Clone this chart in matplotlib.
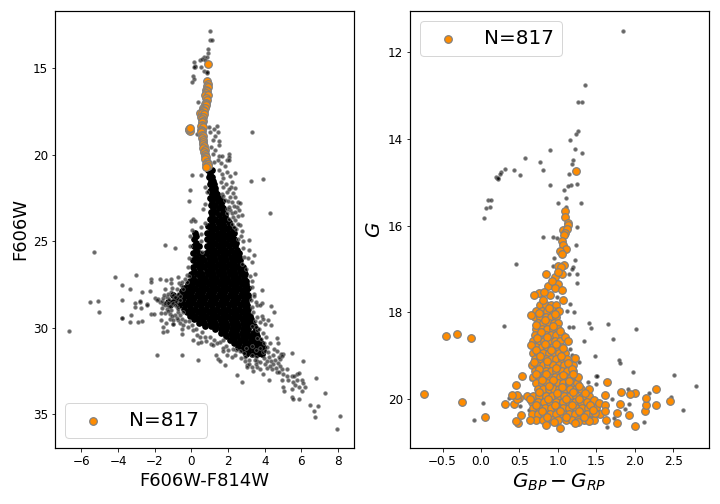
import numpy as np
from matplotlib import pyplot as plt

# ---------- left panel, F606W-F814W vs F606W ----------
# dense part of the cloud, one list of colours per magnitude row
core_mag = [20.9, 21.3, 21.7, 22.1, 22.5, 22.9, 23.3, 23.7, 24.1, 24.5, 24.9, 25.3, 25.7, 26.1, 26.5, 26.9,
            27.3, 27.7, 28.1, 28.5, 28.9, 29.3, 29.7, 30.1, 30.5, 30.9, 31.3]
core_col = [
    [0.9, 1.1],
    [0.95, 1.15],
    [1.0, 1.25],
    [1.0, 1.3],
    [1.0, 1.25, 1.5],
    [1.05, 1.3, 1.6],
    [1.05, 1.35, 1.7],
    [1.0, 1.3, 1.6, 1.9],
    [0.9, 1.2, 1.5, 1.8, 2.1],
    [0.2, 0.85, 1.15, 1.45, 1.75, 2.05, 2.3],
    [0.15, 0.85, 1.15, 1.45, 1.75, 2.05, 2.35],
    [0.15, 0.4, 0.85, 1.15, 1.45, 1.75, 2.05, 2.4],
    [0.1, 0.4, 0.8, 1.1, 1.4, 1.7, 2.0, 2.3, 2.6],
    [0.1, 0.4, 0.7, 1.0, 1.3, 1.6, 1.9, 2.2, 2.5, 2.65],
    [0.1, 0.4, 0.7, 1.0, 1.3, 1.6, 1.9, 2.2, 2.5, 2.8],
    [0.0, 0.3, 0.6, 0.9, 1.2, 1.5, 1.8, 2.1, 2.4, 2.7, 2.9],
    [-0.1, 0.2, 0.5, 0.8, 1.1, 1.4, 1.7, 2.0, 2.3, 2.6, 2.9, 3.0],
    [-0.4, -0.1, 0.2, 0.5, 0.8, 1.1, 1.4, 1.7, 2.0, 2.3, 2.6, 2.9, 3.1],
    [-1.0, -0.6, -0.3, 0.0, 0.3, 0.6, 0.9, 1.2, 1.5, 1.8, 2.1, 2.4, 2.7, 3.0, 3.1],
    [-1.3, -1.0, -0.5, -0.2, 0.1, 0.4, 0.7, 1.0, 1.3, 1.6, 1.9, 2.2, 2.5, 2.8, 3.0],
    [-0.4, -0.1, 0.2, 0.5, 0.8, 1.1, 1.4, 1.7, 2.0, 2.3, 2.6, 2.9, 3.1],
    [-0.1, 0.2, 0.5, 0.8, 1.1, 1.4, 1.7, 2.0, 2.3, 2.6, 2.9, 3.2],
    [0.4, 0.7, 1.0, 1.3, 1.6, 1.9, 2.2, 2.5, 2.8, 3.1, 3.3],
    [1.3, 1.6, 1.9, 2.2, 2.5, 2.8, 3.1, 3.5],
    [1.9, 2.2, 2.5, 2.8, 3.1, 3.35, 3.6],
    [2.3, 2.6, 2.9, 3.2, 3.5, 3.8],
    [2.8, 3.1, 3.4, 3.7, 3.9],
]
core_mag_b = [21.1, 21.5, 21.9, 22.3, 22.7, 23.1, 23.5, 23.9, 24.3, 24.7, 25.1, 25.5, 25.9, 26.3, 26.7, 27.1,
              27.5, 27.9, 28.3, 28.7, 29.1, 29.5, 29.9, 30.3, 30.7, 31.1, 31.5]
core_col_b = [
    [1.0],
    [1.05, 1.2],
    [1.1, 1.3],
    [1.1, 1.4],
    [1.15, 1.45, 1.65],
    [1.2, 1.5, 1.75],
    [1.15, 1.5, 1.85],
    [1.1, 1.45, 1.75, 2.05],
    [1.05, 1.35, 1.65, 1.95, 2.25],
    [0.25, 1.0, 1.3, 1.6, 1.9, 2.2],
    [0.25, 1.0, 1.3, 1.6, 1.9, 2.2, 2.45],
    [0.25, 0.95, 1.25, 1.55, 1.85, 2.15, 2.5],
    [0.25, 0.6, 0.95, 1.25, 1.55, 1.85, 2.15, 2.45, 2.6],
    [0.25, 0.55, 0.85, 1.15, 1.45, 1.75, 2.05, 2.35, 2.65],
    [0.15, 0.45, 0.85, 1.15, 1.45, 1.75, 2.05, 2.35, 2.65, 2.85],
    [0.1, 0.45, 0.75, 1.05, 1.35, 1.65, 1.95, 2.25, 2.55, 2.85],
    [-0.2, 0.05, 0.35, 0.65, 0.95, 1.25, 1.55, 1.85, 2.15, 2.45, 2.75, 3.0],
    [-0.5, -0.25, 0.05, 0.35, 0.65, 0.95, 1.25, 1.55, 1.85, 2.15, 2.45, 2.75, 3.0],
    [-0.8, -0.45, -0.15, 0.15, 0.45, 0.75, 1.05, 1.35, 1.65, 1.95, 2.25, 2.55, 2.85, 3.1],
    [-1.15, -0.7, -0.35, -0.05, 0.25, 0.55, 0.85, 1.15, 1.45, 1.75, 2.05, 2.35, 2.65, 2.95, 3.05],
    [-0.25, 0.05, 0.35, 0.65, 0.95, 1.25, 1.55, 1.85, 2.15, 2.45, 2.75, 3.05],
    [0.15, 0.35, 0.65, 0.95, 1.25, 1.55, 1.85, 2.15, 2.45, 2.75, 3.05, 3.25],
    [0.75, 1.05, 1.35, 1.65, 1.95, 2.25, 2.55, 2.85, 3.15, 3.4],
    [1.6, 1.85, 2.15, 2.45, 2.75, 3.05, 3.35, 3.55],
    [2.1, 2.35, 2.65, 2.95, 3.25, 3.55, 3.7],
    [2.55, 2.85, 3.15, 3.45, 3.75, 3.9],
    [3.0, 3.3, 3.6, 3.85],
]

far_left = [(-6.65, 30.17), (-5.29, 25.6), (-5.51, 28.49), (-5.07, 28.43), (-5.02, 29.07), (-4.15, 27.05),
            (-3.76, 27.51), (-3.0, 26.93), (-3.33, 27.74), (-3.76, 28.38), (-3.76, 29.46), (-3.76, 29.42),
            (-3.27, 29.24), (-3.33, 29.65), (-2.89, 29.65), (-2.71, 29.59), (-3.06, 28.55), (-3.06, 28.78),
            (-2.78, 28.49), (-2.78, 28.45), (-2.73, 28.84), (-2.67, 27.91), (-2.4, 28.61), (-2.4, 28.7),
            (-2.24, 27.86), (-2.18, 27.16), (-2.18, 27.34), (-2.18, 29.19), (-2.02, 29.19), (-1.69, 27.16),
            (-1.36, 27.22), (-1.09, 27.16), (-1.09, 27.39), (-1.42, 27.74), (-1.04, 27.68), (-0.71, 27.05),
            (-0.66, 27.39), (-1.42, 25.2), (-0.87, 25.37), (-1.85, 31.56), (-0.49, 31.56), (0.38, 31.85)]

cross_band = [(-1.53, 30.23), (-1.31, 30.17), (-1.53, 29.94), (-1.36, 29.7), (-0.98, 29.76), (-1.96, 28.26),
              (-1.8, 28.32), (-1.53, 28.61), (-1.26, 28.7), (-1.67, 29.13), (-1.44, 29.13), (-1.67, 29.53),
              (-1.16, 29.47), (-0.98, 29.8), (-0.71, 29.57), (-0.53, 30.05), (-0.53, 30.34), (0.11, 30.69),
              (0.38, 30.86), (0.51, 30.82), (0.74, 30.53), (1.02, 30.53), (1.05, 30.92), (1.2, 30.98),
              (-1.71, 28.51), (-1.44, 28.7), (-1.35, 28.9), (-1.07, 28.61), (-0.8, 28.8), (-0.62, 28.42),
              (-1.16, 29.19), (-0.89, 29.28), (-0.71, 29.09), (-0.98, 29.57), (-0.53, 29.47), (-0.44, 29.09),
              (-1.35, 28.22), (-0.98, 28.13), (-0.71, 28.03), (-0.44, 27.74), (-0.26, 27.36), (-0.53, 27.36),
              (-0.26, 26.97), (-1.9, 28.4), (-1.6, 28.45), (-1.2, 28.35), (-0.85, 28.5), (-0.75, 28.9),
              (-1.1, 28.95), (-0.6, 29.75), (-0.2, 29.95), (0.1, 30.15), (0.3, 30.4), (0.6, 30.25),
              (-1.55, 28.3), (-1.45, 28.55), (-1.3, 28.6), (-1.15, 28.75), (-1.0, 28.55), (-0.9, 28.7),
              (-1.6, 28.85), (-1.25, 29.05), (-1.05, 29.3), (-0.8, 29.45), (-0.6, 29.25), (-0.35, 29.6),
              (-0.45, 29.85), (-0.15, 29.6), (0.05, 29.85), (0.25, 30.05), (-1.1, 27.95), (-0.8, 27.75),
              (-0.55, 27.55), (-0.35, 27.2), (-0.9, 28.25), (-1.25, 28.05), (-1.5, 28.1), (-0.6, 28.15),
              (0.45, 30.55), (0.8, 30.75), (1.25, 30.7), (1.55, 30.85), (1.75, 30.7), (1.9, 31.05)]

lower_right = [(1.38, 30.89), (1.33, 31.56), (1.47, 31.79), (1.56, 31.94), (1.74, 31.15), (1.74, 31.36), (1.93, 31.56),
               (1.84, 32.13), (2.2, 31.69), (2.51, 32.71), (2.78, 33.12), (2.65, 31.36), (2.93, 31.69), (2.93, 31.94),
               (3.02, 32.17), (3.29, 32.27), (3.34, 32.52), (3.02, 32.27), (3.6, 32.27), (3.93, 32.65), (4.25, 33.0),
               (3.74, 32.36), (4.38, 32.36), (4.65, 32.56), (4.93, 32.36), (5.24, 32.36), (4.84, 31.79), (5.02, 31.5),
               (5.47, 31.44), (6.11, 31.9), (4.93, 33.0), (5.29, 33.04), (5.47, 32.79), (5.74, 32.65), (5.89, 32.62),
               (5.56, 33.13), (6.02, 33.04), (6.11, 33.17), (5.65, 33.33), (5.89, 33.42), (6.22, 33.4), (5.02, 33.4),
               (5.07, 33.64), (5.47, 33.52), (6.02, 33.66), (5.47, 34.0), (5.56, 34.1), (5.89, 34.1), (6.82, 32.89),
               (7.31, 33.75), (6.49, 34.45), (6.93, 34.5), (6.71, 34.79), (6.76, 35.14), (8.13, 35.08), (7.96, 35.83),
               (3.6, 30.6), (3.95, 30.9), (4.3, 30.9), (4.65, 30.6), (4.75, 30.87), (4.1, 31.1), (4.5, 31.25),
               (4.9, 31.5), (4.25, 31.7), (3.9, 31.4), (3.55, 31.7), (3.9, 30.3), (4.35, 31.95), (4.7, 32.05),
               (4.45, 32.1), (3.3, 31.6), (3.6, 31.9), (4.0, 32.1), (3.0, 31.2), (3.3, 31.05), (4.1, 32.35),
               (3.8, 30.65), (4.05, 30.55), (4.0, 31.35), (4.2, 31.4), (4.45, 31.55), (4.65, 31.35), (4.8, 31.7),
               (4.95, 31.65), (3.75, 31.15), (3.55, 31.3), (3.45, 31.85), (3.75, 32.0), (3.95, 31.75), (4.15, 31.9),
               (4.55, 31.85), (4.6, 32.3), (4.85, 32.2), (4.3, 32.2), (3.15, 31.85), (2.85, 31.45), (2.45, 31.3),
               (2.25, 31.25), (2.0, 31.3), (2.4, 31.6), (2.7, 31.75), (3.15, 32.1), (3.5, 32.1), (5.6, 32.8),
               (5.75, 33.0), (5.2, 32.8), (5.0, 32.65), (4.8, 32.55)]

right_edge = [(3.16, 24.91), (2.84, 24.97), (3.44, 25.78), (3.49, 26.87), (3.33, 27.63), (3.87, 27.8), (3.44, 28.03),
              (3.44, 28.18), (3.87, 28.55), (4.36, 28.72), (3.56, 28.7), (3.74, 28.7), (4.53, 29.07), (3.84, 29.32),
              (3.93, 29.47), (4.2, 29.53), (4.36, 29.82), (3.74, 29.67), (4.02, 29.76), (3.56, 30.15), (3.2, 27.0),
              (3.3, 26.2), (3.1, 26.0), (3.3, 27.3), (3.5, 28.5), (3.35, 29.1), (3.6, 29.4), (3.3, 29.9),
              (3.15, 25.5), (3.0, 26.6), (3.25, 28.4), (3.3, 28.8), (3.45, 29.6), (3.55, 29.95), (3.7, 30.05)]

upper_stars = [(1.04, 12.88), (1.04, 13.35), (1.14, 13.35), (0.93, 13.92), (0.93, 14.1), (0.67, 14.35), (0.87, 14.35),
               (0.16, 14.64), (0.47, 14.54), (0.6, 14.5), (0.76, 14.54), (0.2, 14.93), (0.2, 14.9), (0.16, 14.96),
               (0.51, 14.96), (0.71, 15.16), (0.85, 15.2), (0.85, 15.3), (0.85, 15.25), (0.11, 15.43), (0.13, 15.64),
               (0.05, 15.81), (0.38, 16.93), (0.33, 18.82)]

neck_stars = [(0.98, 18.39), (1.24, 18.49), (1.38, 18.32), (1.02, 18.68), (1.29, 18.93), (1.47, 18.72), (1.16, 19.16),
              (1.53, 19.24), (1.51, 19.47), (1.09, 19.55), (1.29, 19.74), (1.2, 19.94), (1.51, 20.07), (1.65, 20.07),
              (2.04, 19.94), (2.07, 20.13), (1.25, 20.42), (1.44, 20.32), (1.96, 20.32), (2.04, 20.32), (1.64, 20.51),
              (1.85, 20.67), (1.53, 20.86), (1.93, 21.0), (2.4, 21.05), (1.65, 21.09), (2.11, 21.23), (1.74, 21.34),
              (2.2, 21.57), (3.33, 18.72), (3.93, 21.38), (3.27, 21.5), (4.31, 23.4), (0.05, 21.15), (0.54, 21.19),
              (-0.09, 22.02), (-0.11, 22.65), (0.74, 21.86), (0.84, 22.15), (0.74, 22.83), (0.65, 23.15), (-0.04, 23.85),
              (0.11, 23.7), (0.2, 23.83), (0.02, 24.37), (0.74, 23.94), (0.55, 24.2), (1.74, 21.86), (2.16, 21.86),
              (2.38, 21.92), (1.93, 22.15), (2.38, 22.44), (2.56, 22.73), (2.65, 22.79), (2.2, 22.73), (2.47, 23.02),
              (2.74, 23.5), (2.56, 23.56), (2.11, 23.21), (2.29, 23.6), (2.65, 24.08), (2.45, 24.3), (1.65, 22.25),
              (2.11, 22.44), (1.93, 23.12), (2.2, 23.98), (1.84, 22.63), (1.6, 21.6), (1.9, 21.7), (2.05, 22.0),
              (2.25, 22.2), (1.75, 22.4), (2.0, 22.65), (2.3, 22.95), (2.05, 23.0), (1.95, 23.4), (2.2, 23.4),
              (2.4, 23.3), (2.6, 23.2), (2.05, 23.7), (2.4, 23.75), (2.55, 24.0), (2.3, 24.2), (2.75, 24.4),
              (2.7, 24.7), (2.55, 24.9), (2.8, 25.4), (2.85, 25.9), (2.75, 26.3), (-0.05, 24.7), (-0.1, 25.3),
              (0.55, 25.0), (0.6, 25.6), (0.55, 24.6), (-0.15, 26.0), (-0.2, 26.5), (-0.15, 27.0)]

sample_left = [(0.89, 14.79), (0.84, 15.75), (0.88, 15.9), (0.83, 16.02), (0.9, 16.12), (0.8, 16.25), (0.86, 16.3),
               (0.82, 16.45), (0.76, 16.58), (0.88, 16.55), (0.78, 16.72), (0.84, 16.85), (0.82, 17.0), (0.72, 17.1),
               (0.8, 17.15), (0.66, 17.3), (0.76, 17.32), (0.62, 17.42), (0.7, 17.48), (0.47, 17.62), (0.6, 17.62),
               (0.68, 17.68), (0.52, 17.8), (0.62, 17.85), (0.56, 17.96), (0.64, 18.05), (0.58, 18.12), (0.6, 18.26),
               (0.54, 18.34), (0.62, 18.42), (0.52, 18.55), (0.58, 18.62), (0.5, 18.72), (0.56, 18.85), (0.62, 18.95),
               (0.6, 19.02), (0.63, 19.14), (0.66, 19.25), (0.62, 19.38), (0.68, 19.5), (0.66, 19.62), (0.72, 19.72),
               (0.7, 19.85), (0.75, 19.95), (0.72, 20.05), (0.78, 20.15), (0.74, 20.28), (0.84, 20.4), (0.78, 20.52),
               (0.88, 20.55), (0.9, 20.65), (0.82, 20.7), (-0.11, 18.55), (-0.1, 18.62), (-0.13, 18.5), (-0.09, 18.45)]

# ---------- right panel, Gaia colour vs G ----------
field_right = [(1.85, 11.51), (1.355, 12.76), (1.264, 13.15), (1.316, 13.15), (1.264, 13.82), (1.238, 13.89), (1.16, 14.03),
               (0.9, 14.26), (1.225, 14.24), (1.316, 14.33), (0.574, 14.44), (0.77, 14.54), (1.2, 14.49), (1.186, 14.58),
               (0.313, 14.7), (0.43, 14.72), (0.808, 14.72), (0.261, 14.77), (0.248, 14.8), (0.509, 14.84), (1.147, 14.81),
               (0.196, 14.88), (0.209, 14.9), (0.222, 14.93), (0.227, 14.9), (0.9, 15.07), (1.251, 15.04), (1.173, 15.07),
               (1.134, 15.09), (1.082, 15.18), (1.108, 15.37), (1.003, 15.48), (1.303, 15.48), (1.108, 15.57), (0.092, 15.41),
               (0.131, 15.41), (0.066, 15.6), (0.118, 15.57), (0.04, 15.83), (1.251, 16.04), (1.108, 16.06), (0.808, 16.26),
               (0.938, 16.26), (0.99, 16.29), (1.238, 16.45), (0.951, 16.75), (1.225, 16.8), (0.457, 16.89), (0.938, 16.93),
               (1.2, 16.96), (1.186, 17.0), (1.147, 17.12), (1.251, 17.12), (1.251, 17.33), (0.99, 17.65), (0.977, 17.81),
               (1.16, 17.81), (1.121, 17.97), (1.212, 18.0), (0.3, 18.32), (1.147, 18.34), (1.2, 18.34), (1.407, 18.25),
               (1.433, 18.37), (1.655, 18.27), (2.019, 18.39), (1.72, 18.62), (1.342, 18.66), (1.16, 18.85), (1.485, 19.01),
               (1.186, 18.99), (1.277, 19.15), (1.798, 19.1), (1.811, 19.16), (1.98, 19.37), (2.514, 19.45), (1.498, 19.48),
               (1.511, 19.47), (1.394, 19.61), (1.498, 19.66), (2.8, 19.7), (1.915, 19.77), (2.188, 19.86), (1.707, 20.0),
               (2.475, 19.96), (1.928, 20.12), (1.876, 20.23), (2.631, 20.26), (0.027, 20.1), (0.365, 19.98), (0.509, 20.16),
               (0.626, 20.26), (0.656, 19.54), (-0.09, 20.49), (1.733, 20.44), (2.123, 20.53), (1.642, 20.65), (0.977, 20.58)]

sample_single = [(1.238, 14.75), (1.095, 15.67), (1.095, 15.8), (1.134, 15.94), (1.07, 16.1), (1.134, 15.98), (1.115, 16.08),
                 (1.09, 16.16), (1.082, 16.22), (1.056, 16.36), (1.07, 16.44), (1.108, 16.54), (1.03, 16.59), (1.05, 16.66),
                 (1.082, 16.91), (1.003, 16.93), (1.04, 16.95), (1.056, 17.12), (0.965, 17.19), (0.847, 17.12), (1.0, 17.08),
                 (1.003, 17.35), (0.873, 17.4), (0.92, 17.27), (0.756, 17.56), (0.9, 17.6), (0.82, 17.53), (0.96, 17.45),
                 (1.056, 17.49), (1.069, 17.72), (0.691, 17.6), (0.656, 18.06), (0.652, 18.76), (1.016, 17.97), (1.095, 18.56),
                 (1.134, 18.66), (1.225, 19.06), (1.264, 19.5), (1.407, 19.77), (1.472, 20.03), (1.537, 20.1), (1.616, 20.14),
                 (1.616, 20.28), (1.629, 20.49), (1.772, 20.56), (1.772, 20.33), (1.811, 20.12), (1.928, 20.37), (2.006, 20.63),
                 (2.136, 20.28), (2.462, 20.05), (2.28, 20.14), (2.271, 19.77), (2.15, 20.14), (2.15, 19.98), (2.006, 19.86),
                 (1.941, 19.89), (1.824, 19.84), (1.642, 19.61), (1.616, 19.91), (1.485, 20.33), (1.407, 20.51), (1.264, 20.53),
                 (1.03, 20.67), (0.847, 20.6), (0.639, 20.49), (0.483, 20.56), (0.457, 20.51), (0.522, 20.37), (0.43, 20.12),
                 (0.313, 20.12), (0.5, 19.98), (0.47, 20.0), (0.47, 19.91), (0.405, 19.91), (0.457, 19.68), (0.535, 19.47),
                 (0.053, 20.42), (-0.247, 20.07), (-0.741, 19.89), (-0.129, 18.6), (-0.312, 18.5), (-0.455, 18.55)]

body_mag = [17.83, 17.97, 18.1, 18.24, 18.38, 18.52, 18.66, 18.8, 18.94, 19.08, 19.22, 19.36, 19.5, 19.64, 19.78, 19.92, 20.06, 20.2, 20.34, 20.48]
body_col = [
    [0.77, 0.84, 0.91, 0.98],
    [0.72, 0.79, 0.86, 0.93, 1.0],
    [0.7, 0.77, 0.84, 0.91, 0.97],
    [0.74, 0.81, 0.88, 0.95, 1.0],
    [0.72, 0.79, 0.86, 0.93, 1.0],
    [0.7, 0.77, 0.84, 0.91, 0.98, 1.05],
    [0.68, 0.75, 0.82, 0.89, 0.96, 1.03],
    [0.72, 0.79, 0.86, 0.93, 1.0, 1.05],
    [0.67, 0.74, 0.81, 0.88, 0.95, 1.02, 1.09],
    [0.7, 0.77, 0.84, 0.91, 0.98, 1.05, 1.12],
    [0.66, 0.73, 0.8, 0.87, 0.94, 1.01, 1.08, 1.15, 1.2],
    [0.7, 0.77, 0.84, 0.91, 0.98, 1.05, 1.12, 1.19],
    [0.68, 0.75, 0.82, 0.89, 0.96, 1.03, 1.1, 1.17, 1.22],
    [0.72, 0.79, 0.86, 0.93, 1.0, 1.07, 1.14, 1.21, 1.25],
    [0.74, 0.81, 0.88, 0.95, 1.02, 1.09, 1.16, 1.23, 1.3],
    [0.6, 0.68, 0.76, 0.84, 0.92, 1.0, 1.08, 1.16, 1.24, 1.32, 1.4],
    [0.66, 0.74, 0.82, 0.9, 0.98, 1.06, 1.14, 1.22, 1.3, 1.38, 1.46],
    [0.67, 0.75, 0.83, 0.91, 0.99, 1.07, 1.15, 1.23, 1.31, 1.39, 1.5],
    [0.66, 0.74, 0.82, 0.9, 0.98, 1.06, 1.14, 1.22, 1.3, 1.38, 1.46, 1.55],
    [0.72, 0.8, 0.92, 1.0, 1.1, 1.18, 1.26, 1.34, 1.42, 1.47],
]

# points that break up the rows above, drawn last so they sit on top
body_extra = [(0.81, 17.72), (0.88, 17.9), (0.76, 18.02), (0.96, 18.05), (0.83, 18.17), (0.72, 18.3), (0.93, 18.31),
              (0.78, 18.45), (1.03, 18.44), (0.86, 18.58), (0.73, 18.6), (0.98, 18.72), (0.83, 18.74), (1.07, 18.82),
              (0.71, 18.87), (0.91, 18.88), (1.04, 19.0), (0.77, 19.01), (0.86, 19.12), (1.13, 19.16), (0.69, 19.14),
              (0.97, 19.29), (1.18, 19.3), (0.76, 19.3), (0.85, 19.43), (1.06, 19.44), (0.71, 19.43), (1.2, 19.43),
              (0.94, 19.57), (1.14, 19.58), (0.79, 19.57), (0.89, 19.71), (1.05, 19.72), (1.27, 19.7), (0.76, 19.84),
              (0.99, 19.85), (1.19, 19.84), (1.35, 19.86), (0.64, 19.99), (0.87, 19.99), (1.11, 20.0), (1.27, 19.99),
              (0.71, 20.13), (0.96, 20.13), (1.18, 20.14), (1.42, 20.13), (0.79, 20.27), (1.03, 20.27), (1.27, 20.28),
              (1.45, 20.26), (0.86, 20.41), (1.1, 20.42), (1.34, 20.42), (0.95, 20.53), (1.22, 20.55)]

ORANGE = 'darkorange'


def rows_to_xy(rows_col, rows_mag):
    x, y = [], []
    for cols, mag in zip(rows_col, rows_mag):
        x += cols
        y += [mag] * len(cols)
    return x, y


plt.rcParams['axes.linewidth'] = 1.2
fig = plt.figure(figsize=(10, 7), dpi=72, facecolor='white')
ax1 = fig.add_axes([55 / 720, 1 - 448 / 504, 299 / 720, 437 / 504])
ax2 = fig.add_axes([410 / 720, 1 - 448 / 504, 299 / 720, 437 / 504])

# left panel
core_x, core_y = rows_to_xy(core_col + core_col_b, core_mag + core_mag_b)
ax1.scatter(core_x, core_y, s=45, c='k', linewidths=0, zorder=2)
for group in (far_left, cross_band, lower_right, right_edge, upper_stars, neck_stars):
    pts = np.array(group)
    ax1.scatter(pts[:, 0], pts[:, 1], s=14, c='k', edgecolors='gray', linewidths=0.9, alpha=0.6, zorder=2)
pts = np.array(sample_left)
ax1.scatter(pts[:, 0], pts[:, 1], s=58, c=ORANGE, edgecolors='gray', linewidths=1.2, zorder=3, label='N=817')

ax1.set_xlim(-7.44, 8.87)
ax1.set_ylim(36.95, 11.7)
ax1.set_xticks([-6, -4, -2, 0, 2, 4, 6, 8])
ax1.set_yticks([15, 20, 25, 30, 35])
ax1.set_xlabel('F606W-F814W', fontsize=18)
ax1.set_ylabel('F606W', fontsize=18)
ax1.legend(loc='lower left', fontsize=20)

# right panel
pts = np.array(field_right)
ax2.scatter(pts[:, 0], pts[:, 1], s=14, c='k', edgecolors='gray', linewidths=0.9, alpha=0.6, zorder=2)
body_x, body_y = rows_to_xy(body_col, body_mag)
pts = np.array(sample_single + body_extra)
ax2.scatter(body_x + list(pts[:, 0]), body_y + list(pts[:, 1]), s=58, c=ORANGE, edgecolors='gray', linewidths=1.2,
            zorder=3, label='N=817')

ax2.set_xlim(-0.924, 2.965)
ax2.set_ylim(21.13, 11.05)
ax2.set_xticks([-0.5, 0.0, 0.5, 1.0, 1.5, 2.0, 2.5])
ax2.set_yticks([12, 14, 16, 18, 20])
ax2.set_xlabel('$G_{BP}-G_{RP}$', fontsize=20)
ax2.set_ylabel('$G$', fontsize=20)
ax2.legend(loc='upper left', fontsize=20)

for ax in (ax1, ax2):
    ax.tick_params(labelsize=12)

plt.savefig('out.png', dpi=72)
